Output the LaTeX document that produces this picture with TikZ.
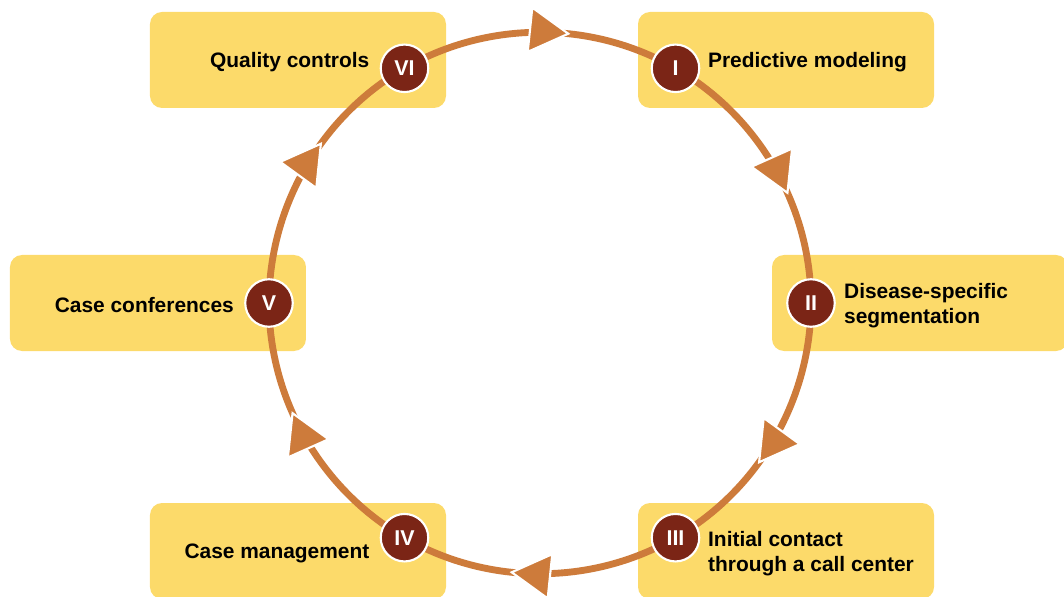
\documentclass[tikz,border=0pt]{standalone}
\usepackage{fontspec}
\setmainfont{Liberation Sans}
\usetikzlibrary{decorations.markings, positioning}
\definecolor{boxyellow}{RGB}{252,218,106}
\definecolor{ringorange}{RGB}{205,123,59}
\definecolor{stepred}{RGB}{123,37,22}
\pgfdeclarelayer{boxes}
\pgfdeclarelayer{ring}
\pgfsetlayers{boxes,ring,main}

\begin{document}
\begin{tikzpicture}[
    stagebox/.style={fill=boxyellow, rounded corners=0.24cm, minimum width=5.92cm, minimum height=1.92cm, inner sep=0},
    stagemark/.style={circle, fill=stepred, draw=white, line width=1.2pt, minimum size=0.95cm, inner sep=0, text=white, font=\fontsize{12.2}{14.2}\selectfont\bfseries},
    stagelabel/.style={inner sep=0, align=left, yshift=-0.05cm, font=\fontsize{11.9}{14.2}\selectfont\bfseries},
    ringarc/.style={draw=ringorange, line width=3.9pt, postaction={decorate},
        decoration={markings, mark=at position 0.6 with {\filldraw[white, fill=ringorange, line width=1.2pt] (0,0) -- (-0.77cm,0.445cm) -- (-0.77cm,-0.445cm) -- cycle;}}}
]
    \useasboundingbox (-10.8,-5.86) rectangle (10.48,6.06);

    % Boxes
    \begin{pgfonlayer}{boxes}
        \node[stagebox] (b1) at (4.92,4.86) {};
        \node[stagebox] (b2) at (7.6,0) {};
        \node[stagebox] (b3) at (4.92,-4.96) {};
        \node[stagebox] (b4) at (-4.84,-4.96) {};
        \node[stagebox] (b5) at (-7.64,0) {};
        \node[stagebox] (b6) at (-4.84,4.86) {};
    \end{pgfonlayer}

    % Stage markers
    \foreach \n/\ang/\numeral in {1/60/I, 2/0/II, 3/-60/III, 4/-120/IV, 5/180/V, 6/120/VI}
        \node[stagemark] (m\n) at (\ang:5.42) {\numeral};

    % Ring with arrows
    \begin{pgfonlayer}{ring}
        \foreach \n/\m in {1/2, 2/3, 3/4, 4/5, 5/6, 6/1}
            \draw[ringarc] (m\n.center) to[bend left=30, looseness=0.91] (m\m.center);
    \end{pgfonlayer}

    % Labels
    \node[stagelabel, anchor=west, xshift=0.15cm] (t1) at (m1.east |- b1) {Predictive modeling};
    \node[stagelabel, anchor=west, xshift=0.16cm] (t2) at (m2.east |- b2) {Disease-specific\\segmentation};
    \node[stagelabel, anchor=west, xshift=0.15cm] (t3) at (m3.east |- b3) {Initial contact\\through a call center};
    \node[stagelabel, anchor=east, xshift=-0.2cm] (t4) at (m4.west |- b4) {Case management};
    \node[stagelabel, anchor=east, xshift=-0.2cm] (t5) at (m5.west |- b5) {Case conferences};
    \node[stagelabel, anchor=east, xshift=-0.2cm] (t6) at (m6.west |- b6) {Quality controls};
\end{tikzpicture}
\end{document}
